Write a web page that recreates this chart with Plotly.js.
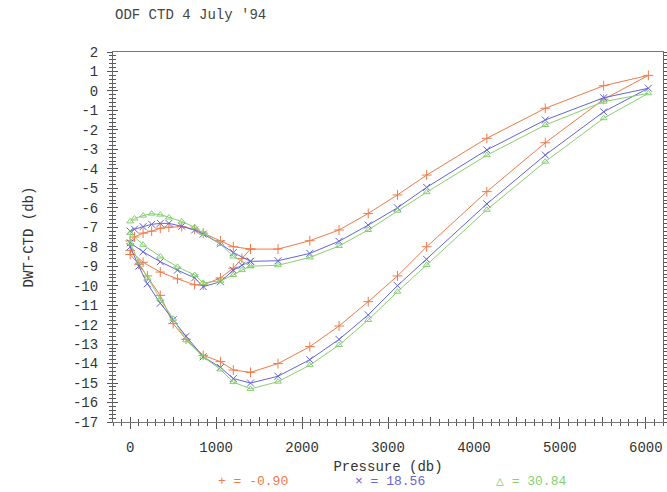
<!DOCTYPE html>
<html>
<head>
<meta charset="utf-8">
<script src="https://cdn.plot.ly/plotly-3.0.1.min.js"></script>
<style>html,body{margin:0;padding:0;background:#fff;}#chart{width:667px;height:492px;}</style>
</head>
<body>
<div id="chart"></div>
<script>
// Pressure path (db): upper inner arc, upper outer branch, lower outer branch, lower inner arc
const pressure = [
  0, 50, 150, 250, 350, 450, 600, 750, 850, 1050, 1200, 1400,
  1720, 2090, 2430, 2770, 3110, 3450, 4150, 4830, 5510, 6030,
  5510, 4830, 4150, 3450, 3110, 2770, 2430, 2090, 1720, 1400, 1200, 1050, 850, 650, 500, 350, 200, 100, 0,
  0, 150, 350, 550, 750, 850, 1050, 1200, 1300, 1400
];
// DWT-CTD (db) for each series
const redVals = [
  -7.7, -7.5, -7.3, -7.2, -7.05, -7.0, -6.97, -7.1, -7.3, -7.7, -8.0, -8.12,
  -8.12, -7.69, -7.14, -6.29, -5.34, -4.32, -2.43, -0.89, 0.27, 0.8,
  -0.43, -2.66, -5.17, -8.0, -9.5, -10.82, -12.07, -13.13, -14.0, -14.45, -14.33, -13.9, -13.58, -12.75, -11.95, -10.5, -9.5, -8.9, -8.4,
  -8.2, -8.8, -9.3, -9.65, -9.95, -9.97, -9.6, -9.1, -8.6, -8.12
];
const blueVals = [
  -7.2, -7.1, -6.97, -6.85, -6.8, -6.8, -6.95, -7.14, -7.35, -7.85, -8.3, -8.75,
  -8.72, -8.34, -7.72, -6.89, -6.0, -4.95, -3.03, -1.49, -0.35, 0.14,
  -1.07, -3.29, -5.8, -8.65, -10.0, -11.5, -12.76, -13.8, -14.65, -15.0, -14.77, -14.2, -13.65, -12.6, -11.75, -10.9, -9.9, -9.0, -8.0,
  -7.8, -8.26, -8.77, -9.2, -9.6, -10.05, -9.8, -9.2, -8.95, -8.75
];
const greenVals = [
  -6.7, -6.55, -6.4, -6.3, -6.35, -6.5, -6.7, -7.0, -7.3, -7.85, -8.5, -9.0,
  -8.95, -8.55, -7.96, -7.14, -6.15, -5.2, -3.3, -1.75, -0.55, -0.12,
  -1.4, -3.63, -6.1, -8.94, -10.31, -11.76, -13.05, -14.08, -14.93, -15.3, -14.95, -14.3, -13.65, -12.8, -11.7, -10.7, -9.6, -8.8, -7.8,
  -7.3, -7.9, -8.5, -9.03, -9.45, -9.85, -9.75, -9.45, -9.2, -9.0
];
const seriesNames = ['-0.90', '18.56', '30.84'];
const seriesSymbols = ['+', '\u00d7', '\u25b3'];
const yTicks = [2,1,0,-1,-2,-3,-4,-5,-6,-7,-8,-9,-10,-11,-12,-13,-14,-15,-16,-17];
const xTicks = [0,1000,2000,3000,4000,5000,6000];

const colors = ['#f07a4a', '#6464dc', '#86d070'];
const markerSyms = ['cross-thin', 'x-thin', 'triangle-up-open'];
const vals = [redVals, blueVals, greenVals];
const FONT = 'Liberation Mono, DejaVu Sans Mono, monospace';

const traces = vals.map((v, i) => ({
  type: 'scatter', mode: 'lines+markers', name: seriesNames[i],
  x: pressure, y: v,
  line: {color: colors[i], width: 1},
  marker: {symbol: markerSyms[i], size: i === 2 ? 6 : 7, color: colors[i], line: {color: colors[i], width: 1}},
  showlegend: false
}));
traces.push({type: 'scatter', mode: 'markers', x: [null], y: [null], xaxis: 'x2', yaxis: 'y2', showlegend: false, hoverinfo: 'skip'});

const L = 113, R = 663, T = 52, B = 422;
const px = (x) => (x - L) / (R - L);
const py = (y) => (B - y) / (B - T);

const annotations = seriesNames.map((n, i) => ({
  xref: 'paper', yref: 'paper', x: px([216, 353, 494][i]), y: py(481),
  xanchor: 'left', yanchor: 'middle', showarrow: false,
  text: seriesSymbols[i] + ' = ' + n,
  font: {family: FONT, size: 13, color: colors[i]}
}));

const axisCommon = {showgrid: false, zeroline: false};
const layout = {
  width: 667, height: 492, autosize: false,
  paper_bgcolor: '#fff', plot_bgcolor: '#fff',
  margin: {l: L, r: 667 - R, t: T, b: 492 - B, pad: 0},
  font: {family: FONT, size: 14, color: '#333'},
  title: {text: "ODF CTD 4 July '94", xref: 'container', yref: 'container', x: 115/667, xanchor: 'left', y: 1 - 14/492, yanchor: 'middle',
          font: {family: FONT, size: 14, color: '#444'}},
  xaxis: Object.assign({}, axisCommon, {
    range: [-200, 6200], tickmode: 'array', tickvals: xTicks, ticktext: xTicks.map(String),
    ticks: 'outside', ticklen: 6, tickwidth: 1, tickcolor: '#555',
    minor: {dtick: 100, tick0: 0, ticks: 'outside', ticklen: 3, tickcolor: '#555'},
    showline: true, linecolor: '#777', linewidth: 1, mirror: true,
    ticklabelstandoff: 6,
    tickfont: {family: FONT, size: 14, color: '#333'},
    title: {text: 'Pressure (db)', standoff: 6, font: {family: FONT, size: 14, color: '#333'}}
  }),
  yaxis: Object.assign({}, axisCommon, {
    range: [-17, 2], tickmode: 'array', tickvals: yTicks, ticktext: yTicks.map(String),
    ticks: 'outside', ticklen: 5, tickwidth: 1, tickcolor: '#555',
    minor: {dtick: 0.2, tick0: 0, ticks: 'outside', ticklen: 3, tickcolor: '#555'},
    showline: true, linecolor: '#666', linewidth: 1, mirror: 'ticks',
    ticklabelstandoff: 6,
    tickfont: {family: FONT, size: 14, color: '#333'},
    title: {text: 'DWT-CTD (db)', standoff: 36, font: {family: FONT, size: 14, color: '#333'}}
  }),
  xaxis2: Object.assign({}, axisCommon, {
    overlaying: 'x', anchor: 'y2', side: 'bottom', range: [-200, 6200],
    tickmode: 'linear', tick0: 0, dtick: 500, ticks: 'inside', ticklen: 5, tickcolor: '#555',
    minor: {dtick: 100, tick0: 0, ticks: 'inside', ticklen: 3, tickcolor: '#555'},
    showticklabels: false, showline: false
  }),
  yaxis2: Object.assign({}, axisCommon, {
    overlaying: 'y', anchor: 'x2', side: 'left', range: [-17, 2],
    tickmode: 'linear', tick0: 0, dtick: 1, ticks: 'inside', ticklen: 5, tickcolor: '#555',
    minor: {dtick: 0.2, tick0: 0, ticks: 'inside', ticklen: 3, tickcolor: '#555'},
    showticklabels: false, showline: false
  }),
  annotations: annotations
};

Plotly.newPlot('chart', traces, layout, {staticPlot: true, displayModeBar: false});
</script>
</body>
</html>
